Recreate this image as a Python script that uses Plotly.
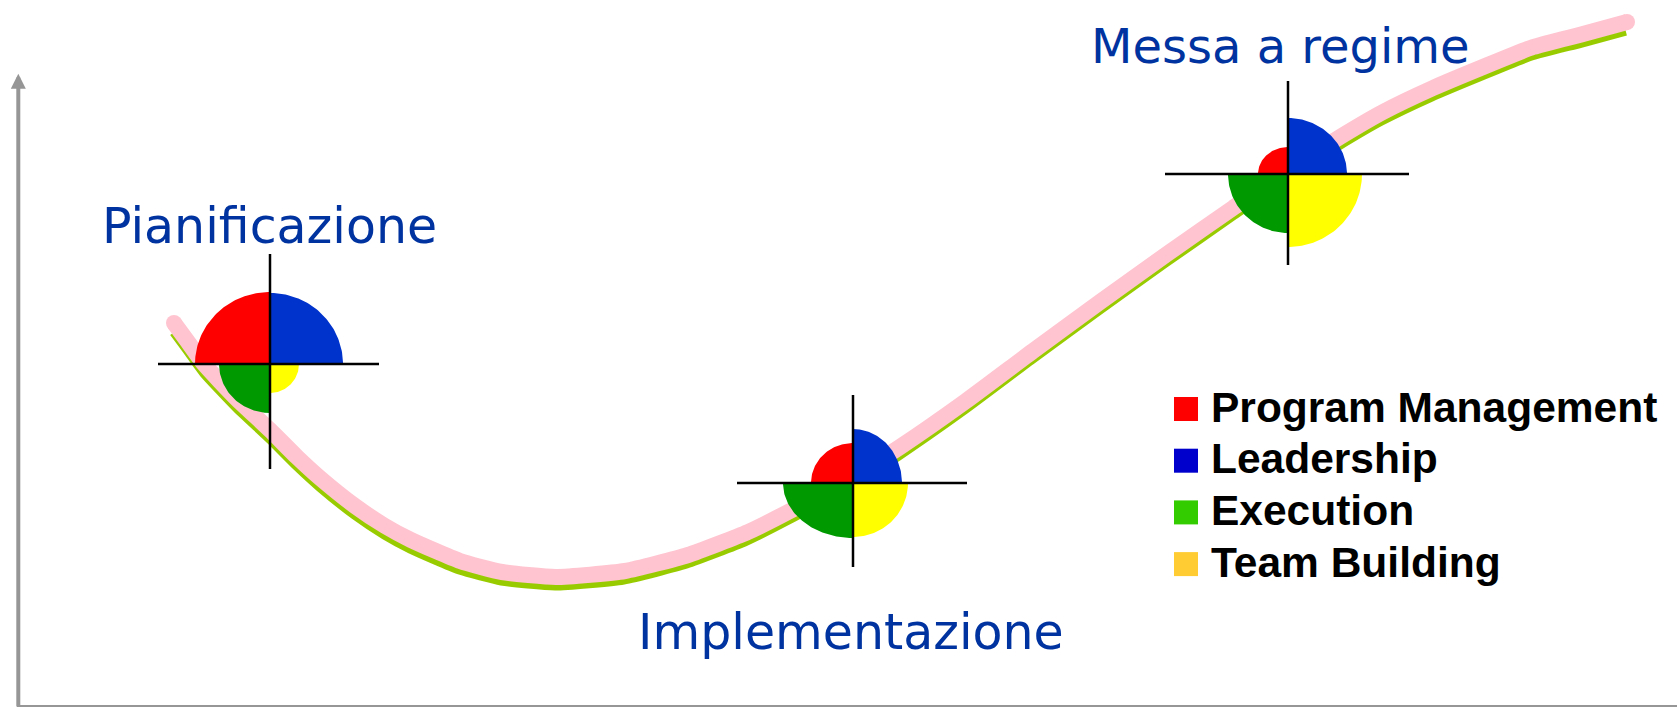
import numpy as np
import plotly.graph_objects as go

# ---------------- data ----------------
stages = ["Pianificazione", "Implementazione", "Messa a regime"]
stage_time = [253, 836, 1271]
stage_level = [341, 222, 531]

categories = ["Program Management", "Leadership", "Execution", "Team Building"]
# quadrant extents (horizontal, vertical) for each stage
pm_rx = [75, 42, 30]
pm_ry = [72, 40, 27]
lead_rx = [73, 49, 59]
lead_ry = [71, 54, 56]
exec_rx = [51, 70, 60]
exec_ry = [49, 55, 59]
team_rx = [29, 55, 74]
team_ry = [29, 54, 73]

# performance curve
curve_time = [157, 171, 187, 219, 253, 280, 303, 338, 368, 394, 443, 485, 539,
              608, 671, 731, 773, 813, 853, 883, 949, 1016, 1083, 1150, 1216,
              1271, 1323, 1366, 1416, 1466, 1516, 1566, 1610]
curve_level = [382, 363, 341, 307, 275, 248, 227, 199, 179, 165, 144, 133, 128,
               134, 150, 173, 194, 216, 239, 258, 304, 354, 403, 451, 497,
               535, 568, 593, 617, 638, 658, 671, 683]

# ---------------- styles ----------------
quad_colors = ["#FF0000", "#0033CC", "#009900", "#FFFF00"]
legend_colors = ["#FF0000", "#0000CC", "#33CC00", "#FFCC33"]
quad_angles = [(90, 180), (0, 90), (180, 270), (270, 360)]
cross_up = [110, 88, 93]
cross_down = [105, 84, 91]
cross_left = [112, 116, 123]
cross_right = [109, 114, 121]
label_pos = [(83, 479), (619, 73), (1072, 659)]
label_size = [49, 49, 48]
legend_x0, legend_y0, legend_step = 1169, 296, 51.7
label_color = "#0033A0"
pink, green = "#FFC4CF", "#99CC00"
shadow_dx, shadow_dy = -1, -10

fig = go.Figure()

# green shadow line and pink curve
fig.add_trace(go.Scatter(
    x=[t + shadow_dx for t in curve_time], y=[v + shadow_dy for v in curve_level],
    mode="lines", line=dict(color=green, width=7, shape="spline", smoothing=0.5),
    hoverinfo="skip", showlegend=False))
fig.add_trace(go.Scatter(
    x=curve_time, y=curve_level, mode="lines",
    line=dict(color=pink, width=16, shape="spline", smoothing=0.5),
    hoverinfo="skip", showlegend=False))
fig.add_trace(go.Scatter(
    x=[curve_time[0], curve_time[-1]], y=[curve_level[0], curve_level[-1]],
    mode="markers", marker=dict(color=pink, size=16, line=dict(width=0)),
    hoverinfo="skip", showlegend=False))

# quadrant glyphs
quad_rx = [pm_rx, lead_rx, exec_rx, team_rx]
quad_ry = [pm_ry, lead_ry, exec_ry, team_ry]
for k in range(4):
    a0, a1 = np.radians(quad_angles[k])
    t = np.linspace(a0, a1, 60)
    xs, ys = [], []
    for s in range(len(stages)):
        cx, cy = stage_time[s], stage_level[s]
        xs += [cx] + list(cx + quad_rx[k][s] * np.cos(t)) + [cx, None]
        ys += [cy] + list(cy + quad_ry[k][s] * np.sin(t)) + [cy, None]
    fig.add_trace(go.Scatter(
        x=xs, y=ys, mode="lines", fill="toself", fillcolor=quad_colors[k],
        line=dict(width=0, color=quad_colors[k]), hoverinfo="skip",
        showlegend=False, name=categories[k]))

# crosshairs
cx_list, cy_list = [], []
for s in range(len(stages)):
    cx, cy = stage_time[s], stage_level[s]
    cx_list += [cx, cx, None, cx - cross_left[s], cx + cross_right[s], None]
    cy_list += [cy + cross_up[s], cy - cross_down[s], None, cy, cy, None]
fig.add_trace(go.Scatter(x=cx_list, y=cy_list, mode="lines",
                         line=dict(color="black", width=2.5),
                         hoverinfo="skip", showlegend=False))

# legend squares
leg_y = [legend_y0 - i * legend_step for i in range(len(categories))]
fig.add_trace(go.Scatter(
    x=[legend_x0] * len(categories), y=leg_y, mode="markers",
    marker=dict(symbol="square", size=24, color=legend_colors, line=dict(width=0)),
    hoverinfo="skip", showlegend=False))

annotations = []
for i, c in enumerate(categories):
    annotations.append(dict(
        x=legend_x0 + 23, y=leg_y[i] + 2, xref="x", yref="y", text=c,
        showarrow=False, xanchor="left", yanchor="middle",
        font=dict(family="Liberation Sans, Arial, sans-serif", size=42.5,
                  color="black", weight="bold")))
for s, name in enumerate(stages):
    annotations.append(dict(
        x=label_pos[s][0], y=label_pos[s][1], xref="x", yref="y", text=name,
        showarrow=False, xanchor="left", yanchor="middle",
        font=dict(family="DejaVu Sans, Verdana, sans-serif", size=label_size[s],
                  color=label_color)))
# vertical axis arrow
annotations.append(dict(
    x=1.3, y=631.3, ax=1.3, ay=-3, xref="x", yref="y", axref="x", ayref="y",
    text="", showarrow=True, arrowhead=2, arrowsize=0.75, arrowwidth=4,
    arrowcolor="#969696"))

fig.update_layout(
    width=1677, height=707,
    margin=dict(l=17, r=0, t=0, b=2, pad=0),
    paper_bgcolor="white", plot_bgcolor="white",
    hovermode=False,
    xaxis=dict(range=[0, 1660], showline=True, linecolor="#969696", linewidth=2,
               showgrid=False, zeroline=False, showticklabels=False, ticks="",
               fixedrange=True),
    yaxis=dict(range=[0, 705], showline=False, showgrid=False, zeroline=False,
               showticklabels=False, ticks="", fixedrange=True),
    annotations=annotations,
)

fig.write_html("out.html", config={"displayModeBar": False},
               post_script="document.body.style.margin='0';"
                           "document.body.style.overflow='hidden';")
